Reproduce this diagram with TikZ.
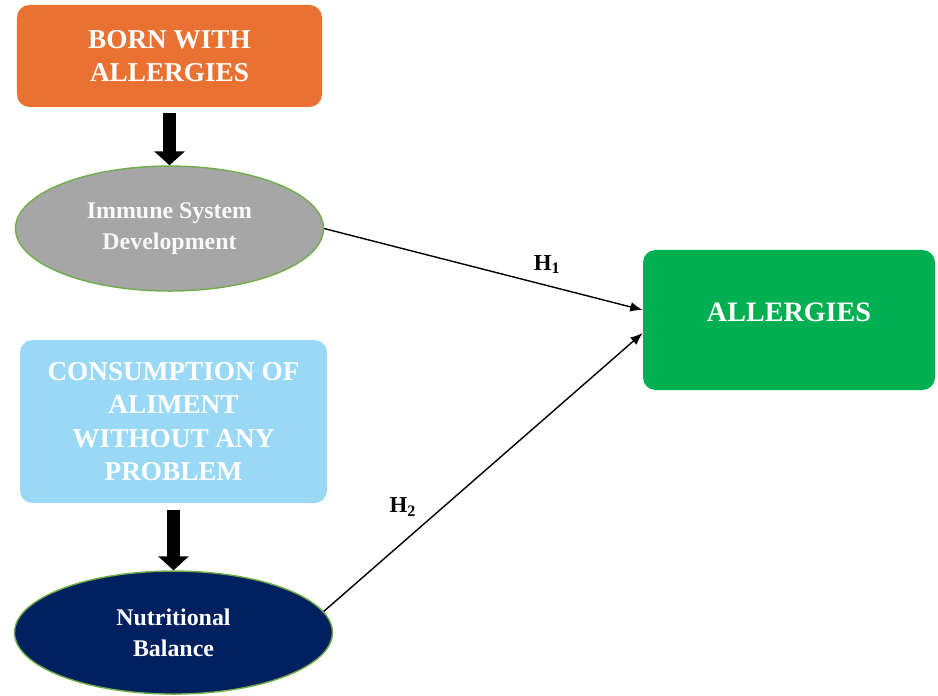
\documentclass[tikz,border=0pt]{standalone}
\usepackage{fontspec}
\setmainfont{Liberation Serif}
\usetikzlibrary{arrows.meta, positioning, shapes.geometric}

\definecolor{bornorange}{HTML}{E97132}
\definecolor{immunegray}{HTML}{A6A6A6}
\definecolor{consumeblue}{HTML}{9AD9F6}
\definecolor{nutrinavy}{HTML}{002060}
\definecolor{allergygreen}{HTML}{00B050}
\definecolor{rimgreen}{HTML}{70AD47}

\begin{document}
\begin{tikzpicture}[
    >=Latex,
    node distance=1.16cm,
    box/.style={
        rectangle,
        rounded corners=0.25cm,
        align=center,
        text=white,
        inner sep=4pt,
        font=\fontsize{15.5}{19}\selectfont\bfseries
    },
    oval/.style={
        ellipse,
        draw=rimgreen,
        line width=0.8pt,
        align=center,
        inner sep=0pt,
        font=\fontsize{13.6}{17.5}\selectfont\bfseries
    },
    fat/.style={
        line width=7pt,
        -{Triangle[width=17pt,length=8pt]},
        shorten <=3.5pt
    },
    link/.style={line width=0.8pt, -{Latex[length=7pt,width=5.5pt]}},
    hyp/.style={font=\fontsize{13}{15}\selectfont\bfseries}
]
\useasboundingbox (0,0) rectangle (18.76,-13.92);

\node[box, fill=bornorange, minimum width=6.1cm, minimum height=2.04cm]
    (born) at (3.39,-1.12) {BORN WITH\\ALLERGIES};
\node[oval, fill=immunegray, text=white!95!gray, minimum width=6.16cm,
    minimum height=2.5cm, below=of born] (immune) {Immune System\\Development};

\node[box, fill=consumeblue, minimum width=6.14cm, minimum height=3.26cm]
    (consume) at (3.47,-8.43) {CONSUMPTION OF\\ALIMENT\\WITHOUT ANY\\PROBLEM};
\node[oval, fill=nutrinavy, text=white, minimum width=6.36cm,
    minimum height=2.46cm, below=1.34cm of consume] (nutri) {Nutritional\\Balance};

\node[box, fill=allergygreen, minimum width=5.84cm, minimum height=2.8cm,
    font=\fontsize{16}{19}\selectfont\bfseries, text depth=9pt]
    (allergy) at (15.78,-6.4) {ALLERGIES};

% thick arrows
\draw[fat] (born) -- (immune);
\draw[fat] (consume) -- (nutri);

% hypotheses
\draw[link] (immune.east) -- node[hyp, pos=0.7, above=3pt] {H\textsubscript{1}}
    ([yshift=0.2cm]allergy.west);
\draw[link] (nutri.8) -- node[hyp, pos=0.3, above left=3pt and -2pt] {H\textsubscript{2}}
    ([yshift=-0.26cm]allergy.west);
\end{tikzpicture}
\end{document}
